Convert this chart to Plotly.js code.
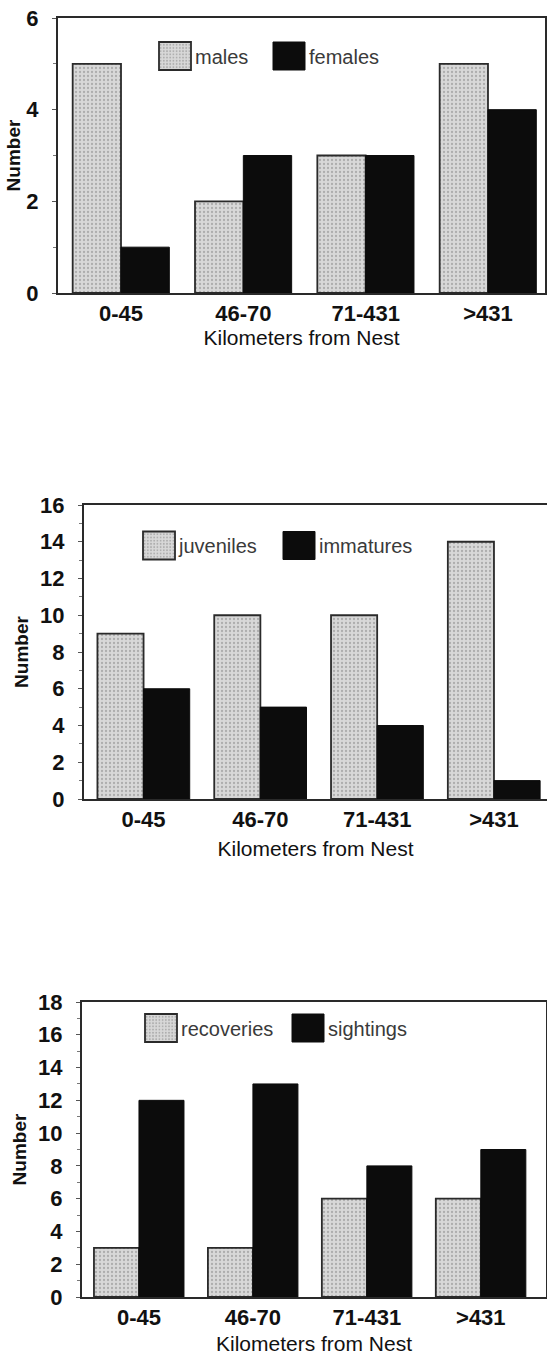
<!DOCTYPE html>
<html>
<head>
<meta charset="utf-8">
<script src="https://cdn.plot.ly/plotly-3.0.1.min.js"></script>
<style>html,body{margin:0;padding:0;background:#fff;}#chart{width:547px;height:1355px;}</style>
</head>
<body>
<div id="chart"></div>
<script>
// ---- data ----
const categories = ['0-45', '46-70', '71-431', '>431'];
const males = [5, 2, 3, 5];
const females = [1, 3, 3, 4];
const juveniles = [9, 10, 10, 14];
const immatures = [6, 5, 4, 1];
const recoveries = [3, 3, 6, 6];
const sightings = [12, 13, 8, 9];
const yTicks1 = [0, 2, 4, 6];
const yTicks2 = [0, 2, 4, 6, 8, 10, 12, 14, 16];
const yTicks3 = [0, 2, 4, 6, 8, 10, 12, 14, 16, 18];
const xTitle = 'Kilometers from Nest';
const yTitle = 'Number';

// ---- styles ----
const FONT = 'Liberation Sans, Arial, Helvetica, sans-serif';
const grayMarker = {
  color: '#d2d2d2',
  line: {color: '#2a2a2a', width: 1.8},
  pattern: {shape: '.', bgcolor: '#d8d8d8', fgcolor: '#adadad', size: 4, solidity: 0.25}
};
const blackMarker = {color: '#0c0c0c', line: {color: '#0c0c0c', width: 1}};

function bar(x, y, name, marker, xa, ya, leg) {
  return {type: 'bar', x: x, y: y, name: name, marker: marker,
          xaxis: xa, yaxis: ya, legend: leg, hoverinfo: 'x+y+name'};
}

const data = [
  bar(categories, males, 'males', grayMarker, 'x', 'y', 'legend'),
  bar(categories, females, 'females', blackMarker, 'x', 'y', 'legend'),
  bar(categories, juveniles, 'juveniles', grayMarker, 'x2', 'y2', 'legend2'),
  bar(categories, immatures, 'immatures', blackMarker, 'x2', 'y2', 'legend2'),
  bar(categories, recoveries, 'recoveries', grayMarker, 'x3', 'y3', 'legend3'),
  bar(categories, sightings, 'sightings', blackMarker, 'x3', 'y3', 'legend3')
];

function xAxis(domain, range, anchor, standoff) {
  return {
    domain: domain, range: range, anchor: anchor, type: 'category',
    showline: true, mirror: true, linecolor: '#2a2a2a', linewidth: 2,
    showgrid: false, zeroline: false, ticks: '', ticklabelstandoff: 0,
    tickfont: {family: FONT, size: 22, color: '#111', weight: 'bold'},
    title: {text: xTitle, standoff: standoff, font: {family: FONT, size: 21, color: '#111'}},
    fixedrange: true
  };
}
function yAxis(domain, range, ticks, anchor, standoff) {
  return {
    domain: domain, range: range, anchor: anchor,
    tickmode: 'array', tickvals: ticks, ticktext: ticks.map(String),
    showline: true, mirror: true, linecolor: '#2a2a2a', linewidth: 2,
    showgrid: false, zeroline: false,
    ticks: 'outside', ticklen: 4, tickwidth: 1, tickcolor: '#555',
    minor: {ticks: 'outside', ticklen: 3, tickwidth: 1, tickcolor: '#777', dtick: 1, showgrid: false},
    ticklabelstandoff: 9,
    tickfont: {family: FONT, size: 22, color: '#111', weight: 'bold'},
    title: {text: yTitle, standoff: standoff, font: {family: FONT, size: 19, color: '#111', weight: 'bold'}},
    fixedrange: true
  };
}
function legend(x, y, entrywidth) {
  return {
    orientation: 'h', x: x, y: y, xanchor: 'left', yanchor: 'middle',
    xref: 'paper', yref: 'paper', bgcolor: 'rgba(0,0,0,0)', borderwidth: 0,
    entrywidth: entrywidth, entrywidthmode: 'pixels',
    font: {family: FONT, size: 20, color: '#3a3a3a'}
  };
}

const W = 547, H = 1355;
const layout = {
  width: W, height: H,
  margin: {l: 0, r: 0, t: 0, b: 0},
  paper_bgcolor: '#fff', plot_bgcolor: '#fff',
  barmode: 'group', bargap: 0.21, bargroupgap: 0,
  font: {family: FONT, color: '#111'},
  xaxis: xAxis([58 / W, 545 / W], [-0.515, 3.466], 'y', 0),
  yaxis: yAxis([1 - 293 / H, 1 - 18 / H], [0, 6], yTicks1, 'x', 1),
  xaxis2: xAxis([84 / W, 1], [-0.51, 3.454], 'y2', 10),
  yaxis2: yAxis([1 - 799 / H, 1 - 505 / H], [0, 16], yTicks2, 'x2', 6),
  xaxis3: xAxis([82 / W, 546 / W], [-0.5, 3.572], 'y3', 9),
  yaxis3: yAxis([1 - 1297 / H, 1 - 1002 / H], [0, 18], yTicks3, 'x3', 6),
  legend: legend(155 / W, 1 - 56 / H, 69),
  legend2: legend(139 / W, 1 - 545.5 / H, 95),
  legend3: legend(141 / W, 1 - 1028 / H, 102),
  showlegend: true
};

function bigSwatches() {
  // enlarge the legend swatches to the big boxes of the printed figure
  document.querySelectorAll('#chart .legendpoints path').forEach(function (p) {
    p.setAttribute('d', 'M16,14H-16V-14H16Z');
  });
}

Plotly.newPlot('chart', data, layout, {displayModeBar: false, staticPlot: true}).then(function () {
  bigSwatches();
  setTimeout(bigSwatches, 0);
  setTimeout(bigSwatches, 100);
});
</script>
</body>
</html>
